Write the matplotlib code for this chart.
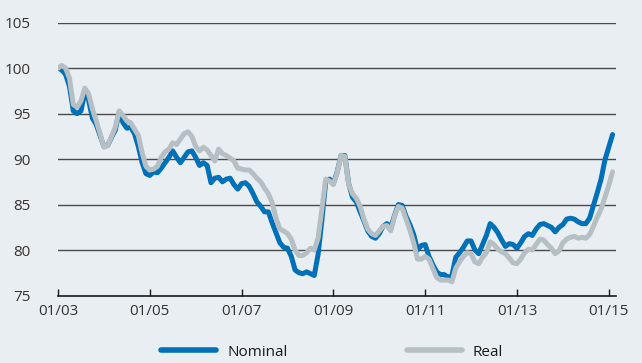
import matplotlib
matplotlib.use("Agg")
import matplotlib.pyplot as plt
from matplotlib.lines import Line2D

# Monthly index values, Jan 2003 = 100 (Jan 2003 .. Feb 2015)
nominal = [
    100.0, 99.8, 99.3, 98.0, 95.3, 95.0, 95.3, 97.3, 96.5, 94.5, 93.8, 92.6,
    91.4, 91.5, 92.4, 93.2, 95.2, 94.0, 93.4, 93.5, 92.8, 91.4, 89.6, 88.4,
    88.2, 88.6, 88.5, 89.0, 89.6, 90.2, 90.9, 90.2, 89.6, 90.2, 90.8, 90.9,
    90.2, 89.3, 89.6, 89.3, 87.4, 87.9, 88.0, 87.5, 87.8, 87.9, 87.2, 86.7,
    87.3, 87.4, 87.0, 86.2, 85.3, 84.8, 84.2, 84.2, 83.0, 81.9, 80.8, 80.3,
    80.2, 79.3, 77.8, 77.5, 77.4, 77.6, 77.4, 77.2, 79.5, 83.3, 87.5, 87.8,
    87.3, 88.6, 90.4, 90.4, 87.3, 85.8, 85.3, 84.2, 83.2, 82.1, 81.5, 81.3,
    81.8, 82.6, 82.9, 82.5, 83.8, 85.0, 84.9, 83.7, 82.8, 81.7, 80.0, 80.5,
    80.6, 79.3, 78.4, 77.6, 77.3, 77.3, 77.0, 77.2, 79.2, 79.7, 80.3, 81.0,
    81.0, 80.0, 79.6, 80.6, 81.6, 82.9, 82.5, 81.9, 81.1, 80.4, 80.7, 80.6,
    80.2, 80.8, 81.5, 81.8, 81.6, 82.3, 82.8, 82.9, 82.7, 82.5, 82.0, 82.5,
    82.8, 83.4, 83.5, 83.4, 83.1, 82.9, 82.9, 83.5, 84.9, 86.3, 87.8, 89.9,
    91.3, 92.7,
]
real = [
    100.0, 100.3, 100.0, 98.9, 96.0, 95.7, 96.4, 97.8, 97.2, 95.5, 94.2, 92.8,
    91.3, 91.5, 92.5, 93.5, 95.3, 94.8, 94.2, 94.0, 93.3, 92.6, 90.7, 89.2,
    88.8, 88.9, 89.2, 90.2, 90.8, 91.1, 91.8, 91.6, 92.2, 92.8, 93.0, 92.5,
    91.4, 90.9, 91.3, 91.0, 90.4, 89.8, 91.1, 90.6, 90.4, 90.1, 89.8, 89.0,
    88.9, 88.8, 88.8, 88.4, 87.9, 87.5, 86.8, 86.2, 85.2, 83.5, 82.3, 82.1,
    81.8, 81.2, 80.0, 79.4, 79.4, 79.7, 80.2, 80.0, 81.3, 84.5, 87.8, 87.6,
    87.2, 88.5, 90.4, 90.3, 87.2, 86.2, 85.7, 84.8, 83.4, 82.3, 81.8, 81.6,
    82.1, 82.6, 82.7, 82.1, 83.7, 84.8, 84.6, 83.4, 82.2, 80.8, 79.0, 79.0,
    79.3, 79.0, 78.0, 77.0, 76.7, 76.7, 76.7, 76.5, 78.0, 78.7, 79.3, 79.7,
    79.6, 78.7, 78.5, 79.2, 79.7, 80.9, 80.6, 80.1, 79.8, 79.6, 79.1, 78.6,
    78.5, 79.0, 79.7, 80.1, 80.0, 80.6, 81.2, 81.1, 80.6, 80.2, 79.6, 79.9,
    80.8, 81.2, 81.4, 81.5, 81.3, 81.4, 81.3, 81.7, 82.6, 83.6, 84.5, 85.8,
    87.1, 88.6,
]
tick_labels = ["01/03", "01/05", "01/07", "01/09", "01/11", "01/13", "01/15"]
y_ticks = [75, 80, 85, 90, 95, 100, 105]
series_names = ["Nominal", "Real"]

bg = "#e9eef3"
blue = "#0070b8"
grey = "#b5bfc4"

plt.rcParams["font.family"] = ["Open Sans", "DejaVu Sans"]

fig = plt.figure(figsize=(6.42, 3.63), dpi=100, facecolor=bg)
ax = fig.add_axes([58 / 642, (363 - 295.5) / 363, (616 - 58) / 642, (295.5 - 22.7) / 363])
ax.set_facecolor(bg)

months = list(range(len(nominal)))
ax.plot(months, nominal, color=blue, lw=3.6, solid_capstyle="round", solid_joinstyle="round", zorder=3)
ax.plot(months, real, color=grey, lw=3.6, solid_capstyle="round", solid_joinstyle="round", zorder=4)

ax.set_xlim(0, 145.9)
ax.set_ylim(75, 105)
ax.set_yticks(y_ticks)
ax.set_xticks([24 * i for i in range(len(tick_labels))])
ax.set_xticklabels(tick_labels)

for v in y_ticks[1:]:
    ax.axhline(v, color="#4a4a4a", lw=1.0, zorder=1)

for s in ["left", "right", "top"]:
    ax.spines[s].set_visible(False)
ax.spines["bottom"].set_color("#1a1a1a")
ax.spines["bottom"].set_linewidth(1.2)
ax.tick_params(axis="x", direction="in", length=5, width=1.0, color="#1a1a1a",
               labelsize=11, labelcolor="#333333", pad=6)
ax.tick_params(axis="y", length=0, labelsize=11, labelcolor="#333333", pad=20)

handles = [Line2D([], [], color=blue, lw=4, solid_capstyle="round"),
           Line2D([], [], color=grey, lw=4, solid_capstyle="round")]
fig.legend(handles, series_names, loc="center", bbox_to_anchor=(332 / 642, 1 - 352 / 363),
           ncol=2, frameon=False, fontsize=11, handlelength=3.6, handletextpad=0.7,
           columnspacing=7.8, labelcolor="#1a1a1a")

fig.savefig("out.png", dpi=100, facecolor=bg)
